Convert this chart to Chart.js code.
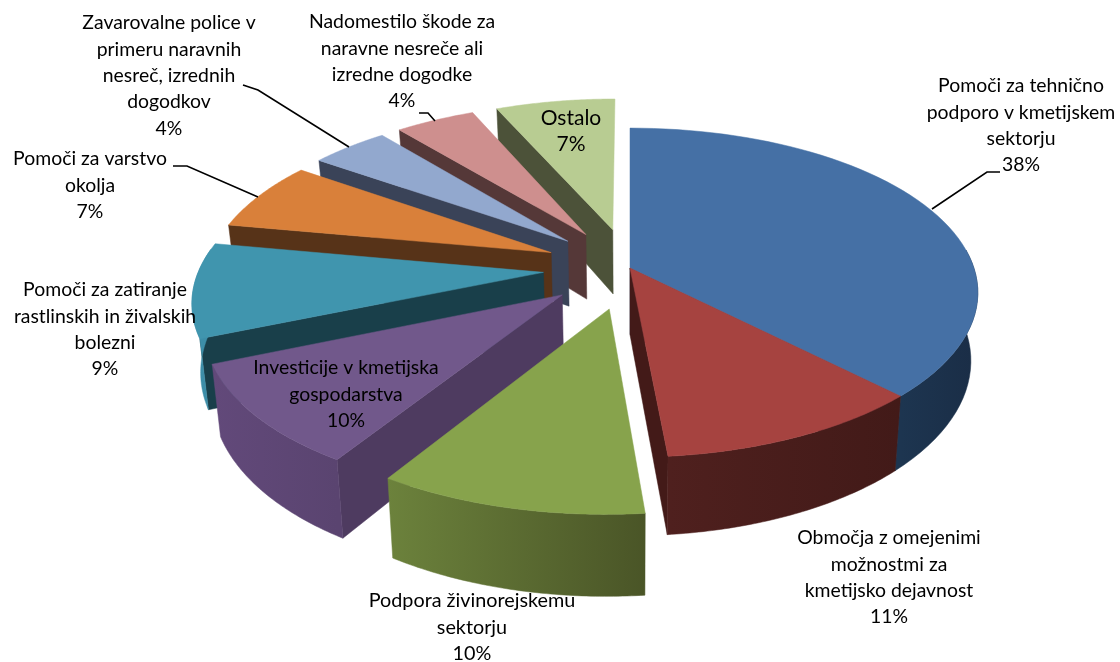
<!DOCTYPE html>
<html>
<head>
<meta charset="utf-8">
<title>Pomoči v kmetijskem sektorju</title>
<script src="https://cdn.jsdelivr.net/npm/chart.js@4/dist/chart.umd.js"></script>
<style>
html, body { margin: 0; padding: 0; background: #fff; }
canvas { display: block; }
</style>
</head>
<body>
<canvas id="chart" width="1120" height="662"></canvas>
<script>
var categories = [
    ['Pomoči za tehnično', 'podporo v kmetijskem', 'sektorju'],
    ['Območja z omejenimi', 'možnostmi za', 'kmetijsko dejavnost'],
    ['Podpora živinorejskemu', 'sektorju'],
    ['Investicije v kmetijska', 'gospodarstva'],
    ['Pomoči za zatiranje', 'rastlinskih in živalskih', 'bolezni'],
    ['Pomoči za varstvo', 'okolja'],
    ['Zavarovalne police v', 'primeru naravnih', 'nesreč, izrednih', 'dogodkov'],
    ['Nadomestilo škode za', 'naravne nesreče ali', 'izredne dogodke'],
    ['Ostalo']
];
var shares = [37.6, 10.9, 10.4, 9.8, 9.2, 6.8, 4.3, 4.4, 6.6];

var explode = [0, 0, 60, 60, 60, 60, 60, 60, 60];
var topColors = ['#4570a5', '#a64340', '#87a34c', '#71588b', '#4095ae', '#d9803a', '#92a8ce', '#ce8f8e', '#b8cc92'];
var wallColors = ['#1b2f49', '#431a18', '#4a5527', '#4e3b60', '#193f4a', '#573318', '#3a4358', '#553838', '#4c5239'];
// rim shading, left to right
var rimLeft = ['#1d3550', '#4f201e', '#6c823c', '#62497a', '#3d8ea8', '#573318', '#3a4358', '#553838', '#4c5239'];
var rimRight = ['#1a2d46', '#421a18', '#4a5527', '#5a4470', '#3d8ea8', '#573318', '#3a4358', '#553838', '#4c5239'];

// centre x, y of the first line
var labelPos = [[1021, 86], [889, 538], [472, 601], [346, 368], [105, 290], [90, 159], [169, 23], [402, 22], [571, 118]];
var labelSize = [19.4, 19.4, 19.8, 19.4, 19.4, 19.4, 19.4, 19.4, 21];
var leaders = [
    [[932, 209], [987, 172], [1000, 172]],
    null, null, null, null,
    [[258, 197], [187, 166], [173, 166]],
    [[349, 147], [258, 90], [243, 85]],
    [[435, 121], [428, 113], [419, 113]],
    null
];

var stretchX = 1.445, squashY = 0.676, depth = 0.28, persp = 0.15, converge = 0.02;
var lineGap = 26.4;

// project a point of the pie plane (in radii) to the screen, h is the drop below the top face
function project(el, X, Z, h) {
    var w = 1 - persp * Z;
    var R = el.outerRadius;
    return {
        x: el.x + R * stretchX * X / w * (1 - converge * h),
        y: el.y + R * (squashY * Z + h * depth) / w
    };
}

function polar(el, theta, r, h) {
    var mid = (el.startAngle + el.endAngle) / 2 + Math.PI / 2;
    var off = el.options.offset / el.outerRadius;
    return project(el, Math.sin(mid) * off + Math.sin(theta) * r, -Math.cos(mid) * off - Math.cos(theta) * r, h);
}

function poly(ctx, pts, fill) {
    ctx.beginPath();
    pts.forEach(function (p, i) {
        if (i == 0) ctx.moveTo(p.x, p.y); else ctx.lineTo(p.x, p.y);
    });
    ctx.closePath();
    ctx.fillStyle = fill;
    ctx.fill();
    ctx.strokeStyle = fill;
    ctx.lineWidth = 0.5;
    ctx.stroke();
}

function drawSlice(ctx, el, i) {
    var a = el.startAngle + Math.PI / 2;
    var b = el.endAngle + Math.PI / 2;
    var steps = 60, top = [polar(el, a, 0, 0)], rimA = [], rimB = [];
    for (var s = 0; s <= steps; s++) {
        var t = a + (b - a) * s / steps;
        top.push(polar(el, t, 1, 0));
        if (Math.cos(t) < 0.15) {
            rimA.push(polar(el, t, 1, 0));
            rimB.unshift(polar(el, t, 1, 1));
        }
    }
    // radial walls that face the viewer
    if (Math.sin(a) < -0.001) {
        poly(ctx, [polar(el, a, 0, 0), polar(el, a, 1, 0), polar(el, a, 1, 1), polar(el, a, 0, 1)], wallColors[i]);
    }
    if (Math.sin(b) > 0.001) {
        poly(ctx, [polar(el, b, 0, 0), polar(el, b, 1, 0), polar(el, b, 1, 1), polar(el, b, 0, 1)], wallColors[i]);
    }
    if (rimA.length > 1) {
        var xs = rimA.map(function (p) { return p.x; });
        var grad = ctx.createLinearGradient(Math.min.apply(null, xs), 0, Math.max.apply(null, xs), 0);
        grad.addColorStop(0, rimLeft[i]);
        grad.addColorStop(1, rimRight[i]);
        poly(ctx, rimA.concat(rimB), grad);
    }
    poly(ctx, top, topColors[i]);
}

var pie3d = {
    id: 'pie3d',
    beforeDatasetsDraw: function (chart) {
        var ctx = chart.ctx;
        var arcs = chart.getDatasetMeta(0).data;
        var order = arcs.map(function (el, i) { return i; });
        // back slices first
        function depthOf(el) {
            return -Math.cos((el.startAngle + el.endAngle) / 2 + Math.PI / 2);
        }
        order.sort(function (p, q) { return depthOf(arcs[p]) - depthOf(arcs[q]); });
        ctx.save();
        order.forEach(function (i) { drawSlice(ctx, arcs[i], i); });
        ctx.restore();
        return false;
    },
    afterDraw: function (chart) {
        var ctx = chart.ctx;
        var total = shares.reduce(function (s, v) { return s + v; }, 0);
        ctx.save();
        ctx.strokeStyle = '#000';
        ctx.lineWidth = 1.6;
        leaders.forEach(function (line) {
            if (!line) return;
            ctx.beginPath();
            line.forEach(function (p, i) {
                if (i == 0) ctx.moveTo(p[0], p[1]); else ctx.lineTo(p[0], p[1]);
            });
            ctx.stroke();
        });
        ctx.fillStyle = '#000';
        ctx.textAlign = 'center';
        ctx.textBaseline = 'middle';
        categories.forEach(function (lines, i) {
            ctx.font = labelSize[i] + 'px Lato, "Open Sans", sans-serif';
            var all = lines.concat([Math.round(shares[i] / total * 100) + '%']);
            all.forEach(function (txt, n) {
                ctx.fillText(txt, labelPos[i][0], labelPos[i][1] + n * lineGap);
            });
        });
        ctx.restore();
    }
};

new Chart(document.getElementById('chart'), {
    type: 'pie',
    data: {
        labels: categories,
        datasets: [{
            data: shares,
            offset: explode,
            backgroundColor: topColors,
            borderWidth: 0
        }]
    },
    options: {
        responsive: false,
        animation: false,
        layout: { padding: { left: 140, right: 0, top: 0, bottom: 126 } },
        plugins: { legend: { display: false }, tooltip: { enabled: false } }
    },
    plugins: [pie3d]
});
</script>
</body>
</html>
